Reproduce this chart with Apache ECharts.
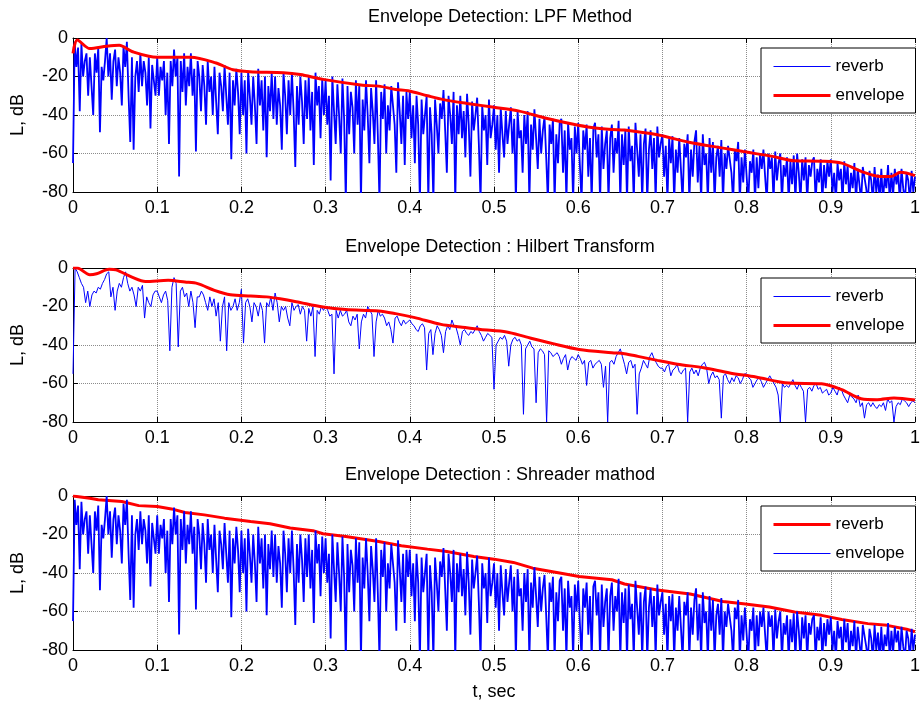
<!DOCTYPE html>
<html>
<head>
<meta charset="utf-8">
<title>Envelope Detection</title>
<script src="https://cdn.jsdelivr.net/npm/echarts@6/dist/echarts.min.js"></script>
<style>
  html, body { margin: 0; padding: 0; background: #fff; }
  #chart { width: 923px; height: 702px; }
</style>
</head>
<body>
<div id="chart"></div>
<script>
  // axis ticks
  var xTicks = [0, 0.1, 0.2, 0.3, 0.4, 0.5, 0.6, 0.7, 0.8, 0.9, 1];
  var yTicks = [-80, -60, -40, -20, 0];

  var titles = [
    'Envelope Detection: LPF Method',
    'Envelope Detection : Hilbert Transform',
    'Envelope Detection : Shreader mathod'
  ];

  // reverb level, dB, read every 2 ms over 0..1 s (used in panel 1 and 3)
  var reverbLevel = [
    -65, -2, -15, -5, -38, -3, -20, -12, -8, -30,
    -10, -25, -40, -8, -18, -5, -49, -15, -22, -12,
    0, -20, -8, -32, -12, -6, -25, -10, -18, -35,
    -4, -15, -2, -30, -54, -10, -58, -20, -12, -28,
    -8, -25, -12, -18, -35, -10, -47, -14, -22, -30,
    -10, -30, -15, -22, -12, -40, -18, -55, -12, -25,
    -6, -20, -10, -72, -12, -28, -8, -35, -15, -25,
    -8, -30, -16, -59, -12, -20, -38, -14, -25, -45,
    -12, -28, -20, -40, -15, -33, -50, -18, -25, -38,
    -14, -30, -45, -18, -63, -22, -35, -16, -28, -50,
    -18, -40, -22, -60, -17, -30, -45, -20, -35, -55,
    -16, -35, -22, -48, -20, -62, -25, -38, -18, -42,
    -20, -45, -26, -35, -58, -18, -30, -50, -22, -40,
    -18, -38, -67, -25, -45, -20, -33, -55, -22, -42,
    -20, -48, -28, -66, -18, -35, -25, -52, -21, -40,
    -22, -45, -30, -74, -20, -38, -55, -24, -40, -60,
    -21, -42, -85, -25, -50, -28, -36, -60, -22, -45,
    -24, -85, -32, -48, -22, -40, -65, -26, -38, -55,
    -22, -50, -85, -28, -42, -24, -60, -35, -48, -25,
    -26, -45, -70, -23, -38, -55, -30, -66, -28, -42,
    -28, -52, -35, -65, -30, -45, -85, -32, -50, -40,
    -30, -85, -36, -50, -85, -32, -45, -60, -34, -42,
    -27, -48, -70, -30, -40, -55, -28, -85, -35, -50,
    -30, -52, -38, -62, -29, -45, -72, -33, -48, -40,
    -31, -55, -85, -35, -48, -40, -66, -32, -52, -45,
    -35, -58, -40, -70, -36, -50, -62, -38, -55, -45,
    -36, -60, -42, -85, -38, -52, -48, -70, -40, -55,
    -38, -85, -45, -58, -37, -52, -68, -42, -60, -48,
    -41, -62, -85, -45, -55, -42, -85, -50, -65, -44,
    -42, -70, -48, -85, -44, -58, -52, -85, -46, -60,
    -44, -66, -85, -48, -58, -45, -72, -52, -85, -47,
    -44, -62, -50, -85, -46, -68, -55, -48, -85, -52,
    -45, -70, -52, -60, -43, -85, -50, -66, -48, -85,
    -46, -64, -56, -85, -44, -58, -72, -50, -85, -55,
    -47, -85, -58, -48, -68, -52, -85, -46, -62, -55,
    -50, -72, -56, -85, -52, -65, -51, -85, -58, -70,
    -52, -68, -85, -55, -62, -50, -85, -58, -72, -54,
    -48, -75, -56, -85, -50, -66, -60, -85, -52, -70,
    -54, -85, -62, -56, -72, -53, -85, -60, -68, -56,
    -55, -70, -85, -58, -64, -54, -85, -62, -75, -58,
    -57, -85, -64, -70, -58, -85, -62, -78, -60, -68,
    -58, -72, -85, -60, -68, -62, -85, -59, -74, -65,
    -60, -85, -66, -72, -62, -85, -64, -76, -61, -85,
    -60, -70, -85, -63, -74, -62, -85, -66, -72, -64,
    -62, -85, -68, -75, -63, -85, -66, -78, -64, -72,
    -63, -80, -70, -85, -65, -74, -68, -85, -64, -76,
    -66, -85, -70, -78, -65, -85, -68, -76, -85, -67,
    -66, -78, -85, -69, -74, -85, -67, -80, -71, -85,
    -68, -85, -72, -78, -66, -85, -70, -82, -68, -76,
    -70, -85, -68, -78, -85, -70, -74, -85, -69, -80,
    -72
  ];

  // hilbert magnitude, dB, read every 2.5 ms over 0..1 s
  var hilbertLevel = [
    -55, 0, -2, -5, -8, -10, -18, -12, -20, -14,
    -12, -13, -10, -11, -8, -6, -3, -2, -15, -10,
    -22, -12, -8, -10, -5, -2, -8, -12, -10, -14,
    -20, -10, -12, -9, -26, -15, -18, -20, -14, -12,
    -12, -15, -18, -14, -12, -17, -43, -10, -5, -8,
    -41, -12, -10, -15, -13, -20, -12, -18, -31, -15,
    -15, -12, -14, -18, -22, -15, -20, -16, -25, -18,
    -38, -20, -15, -43, -18, -22, -20, -16, -22, -18,
    -11, -39, -18, -16, -20, -28, -18, -20, -25, -18,
    -22, -39, -18, -20, -15, -22, -13, -18, -28, -20,
    -22, -20, -26, -30, -18, -22, -20, -19, -24, -20,
    -22, -38, -21, -25, -20, -46, -22, -24, -20, -22,
    -20, -22, -25, -24, -55, -22, -26, -22, -25, -24,
    -22, -28, -30, -25, -27, -24, -42, -28, -24, -26,
    -20, -22, -24, -46, -28, -22, -25, -24, -26, -30,
    -28, -32, -39, -26, -25, -28, -30, -27, -29, -28,
    -27, -29, -30, -32, -33, -30, -29, -31, -53, -34,
    -32, -45, -34, -30, -32, -35, -44, -33, -30, -32,
    -27, -30, -31, -35, -40, -33, -32, -34, -35, -33,
    -34, -32, -30, -33, -35, -38, -36, -34, -35, -36,
    -63, -40, -38, -36, -37, -35, -38, -51, -40, -37,
    -36, -38, -37, -40, -76, -42, -40, -38, -41, -42,
    -70, -44, -42, -43, -45, -80, -43, -44, -46, -45,
    -44, -46, -50, -47, -45, -53, -48, -46, -47, -48,
    -45, -47, -50, -48, -61, -49, -48, -52, -50, -49,
    -48, -50, -62, -51, -80, -49, -48, -50, -46, -44,
    -42, -46, -50, -55, -49, -48, -52, -50, -76, -55,
    -52, -48, -50, -52, -46, -44, -47, -49, -51, -52,
    -52, -54, -51, -50, -56, -53, -52, -50, -54, -55,
    -53, -52, -80, -54, -52, -55, -53, -56, -52, -50,
    -49, -52, -60, -56, -54, -57, -56, -58, -78, -56,
    -55, -58, -60, -57, -59, -56, -57, -60, -58, -55,
    -55, -57, -58, -62, -60, -58, -57, -59, -62, -60,
    -58, -56, -58, -60, -62, -66, -80, -60, -62, -61,
    -62, -60, -58, -61, -63, -60, -62, -64, -80, -63,
    -62, -64, -61, -60, -63, -62, -65, -64, -63, -66,
    -65, -62, -64, -66, -62, -63, -66, -68, -70, -66,
    -67, -68, -70, -66, -72, -70, -78, -71, -70, -72,
    -70, -72, -73, -71, -72, -70, -74, -68, -70, -69,
    -80, -72, -70, -71, -68, -69, -70, -72, -70, -69,
    -70
  ];

  // envelope: LPF method
  var lpfT = [0, 0.005, 0.02, 0.04, 0.055, 0.07, 0.1, 0.14, 0.17, 0.19, 0.21, 0.25, 0.27, 0.297,
    0.344, 0.363, 0.383, 0.398, 0.421, 0.44, 0.468, 0.5, 0.53, 0.562, 0.593, 0.616, 0.64, 0.655,
    0.694, 0.733, 0.772, 0.796, 0.831, 0.857, 0.889, 0.913, 0.936, 0.959, 0.971, 0.983, 1];
  var lpfEnv = [-8, -1, -5.5, -4.3, -3.8, -7, -10, -10, -13, -16.5, -17.5, -18, -19, -21.5,
    -24.5, -25, -26.7, -27.4, -30, -32, -34, -36, -38, -41.7, -44.7, -46.5, -47.5, -47.8,
    -50.3, -54.3, -57.2, -59, -61.5, -63.8, -64, -65, -69.3, -72, -72, -69.8, -71.5];

  // envelope: hilbert transform
  var hilbertT = [0, 0.005, 0.02, 0.028, 0.043, 0.051, 0.07, 0.086, 0.113, 0.133, 0.148, 0.168,
    0.187, 0.211, 0.23, 0.246, 0.265, 0.297, 0.324, 0.363, 0.383, 0.406, 0.437, 0.46, 0.484,
    0.515, 0.538, 0.57, 0.601, 0.64, 0.655, 0.671, 0.694, 0.718, 0.749, 0.78, 0.811, 0.85,
    0.889, 0.913, 0.936, 0.955, 0.975, 1];
  var hilbertEnv = [0, 0, -3.5, -3, -0.7, -1, -4.7, -7, -6.4, -7.3, -8.1, -11.6,
    -13.9, -14.5, -15, -16, -17.5, -20.3, -21.6, -22.3, -23.7, -25.8, -29.3, -30.6, -31.9,
    -33.2, -35.8, -39.3, -42.3, -44, -44.5, -45.9, -48, -50, -51.8, -54.5, -56.6, -59.8,
    -60.1, -63.2, -67.9, -68.4, -67.5, -68.6];

  // envelope: schroeder integration
  var schroederT = [0, 0.02, 0.03, 0.058, 0.078, 0.1, 0.117, 0.133, 0.156, 0.18, 0.211, 0.234,
    0.258, 0.285, 0.297, 0.324, 0.363, 0.39, 0.421, 0.444, 0.476, 0.5, 0.523, 0.546, 0.578,
    0.601, 0.64, 0.655, 0.694, 0.733, 0.772, 0.796, 0.827, 0.857, 0.889, 0.913, 0.944, 0.967,
    0.99, 1];
  var schroederEnv = [0, -1.2, -2, -2.9, -5, -5.5, -6.7, -8.6, -9.8, -11.5, -13.2, -14.4,
    -16.6, -18, -19.6, -21, -23.6, -25.8, -27.6, -28.8, -31.4, -32.8, -34.5, -37.5, -40,
    -41.8, -43.5, -45.7, -48.8, -50.9, -54.8, -56, -57.7, -60.3, -62, -64.2, -66.3, -67.2,
    -69.2, -70.5];

  // samples are evenly spaced over the 1 s record
  function even(values) {
    var step = 1 / (values.length - 1);
    return values.map(function (v, i) { return [i * step, v]; });
  }
  function pairs(t, values) {
    return t.map(function (x, i) { return [x, values[i]]; });
  }

  var FONT = 'Liberation Sans, Arial, sans-serif';
  var BLUE = '#0000ff', RED = '#ff0000';
  var panelTop = [38, 268, 496];
  var panelH = [154, 154, 156];

  var chart = echarts.init(document.getElementById('chart'));

  var grids = [], xAxes = [], yAxes = [], legends = [], titleList = [], series = [];

  for (var p = 0; p < 3; p++) {
    grids.push({ left: 73, top: panelTop[p], width: 855, height: panelH[p], show: false });

    titleList.push({
      text: titles[p], left: 500, textAlign: 'center', top: panelTop[p] - 30, padding: 0,
      textStyle: { fontFamily: FONT, fontSize: 18, fontWeight: 'normal', color: '#000' }
    });

    // bottom x axis with labels
    xAxes.push({
      type: 'value', gridIndex: p, min: xTicks[0], max: xTicks[xTicks.length - 1], interval: 0.1,
      position: 'bottom',
      name: p === 2 ? 't, sec' : '', nameLocation: 'middle', nameGap: 33,
      nameTextStyle: { fontFamily: FONT, fontSize: 18, color: '#000' },
      axisLine: { onZero: false, lineStyle: { color: '#000', width: 1 } },
      axisTick: { inside: true, length: 5, lineStyle: { color: '#000' } },
      axisLabel: { fontFamily: FONT, fontSize: 18, color: '#000', margin: 7 },
      splitLine: { show: true, lineStyle: { color: '#8c8c8c', type: 'dotted', width: 1 } }
    });
    // top x axis: box edge and ticks only
    xAxes.push({
      type: 'value', gridIndex: p, min: xTicks[0], max: xTicks[xTicks.length - 1], interval: 0.1,
      position: 'top',
      axisLine: { onZero: false, lineStyle: { color: '#000', width: 1 } },
      axisTick: { inside: true, length: 5, lineStyle: { color: '#000' } },
      axisLabel: { show: false },
      splitLine: { show: false }
    });

    yAxes.push({
      type: 'value', gridIndex: p, min: yTicks[0], max: yTicks[yTicks.length - 1], interval: 20,
      name: 'L, dB', nameLocation: 'middle', nameGap: 46, nameRotate: 90,
      nameTextStyle: { fontFamily: FONT, fontSize: 18, color: '#000' },
      axisLine: { onZero: false, lineStyle: { color: '#000', width: 1 } },
      axisTick: { inside: true, length: 5, lineStyle: { color: '#000' } },
      axisLabel: { fontFamily: FONT, fontSize: 18, color: '#000', margin: 5 },
      splitLine: { show: true, lineStyle: { color: '#8c8c8c', type: 'dotted', width: 1 } }
    });

    // the blue entry is drawn thin in the legend, the red one thick
    var blueFirst = p < 2;
    legends.push({
      orient: 'vertical', left: 761, top: panelTop[p] + 10,
      padding: [10, 11, 9, 11], itemWidth: 57, itemHeight: 14, itemGap: 12,
      backgroundColor: '#fff', borderColor: '#000', borderWidth: 1, borderRadius: 0,
      data: [
        { name: 'reverb#' + p, lineStyle: { width: blueFirst ? 1 : 3 } },
        { name: 'envelope#' + p, lineStyle: { width: blueFirst ? 3 : 1 } }
      ],
      formatter: function (name) { return name.split('#')[0]; },
      itemStyle: { opacity: 0 },   // no marker, just the line
      textStyle: { fontFamily: FONT, fontSize: 17, color: '#000' },
      selectedMode: false
    });
  }

  function blueLine(name, p, data, width) {
    return {
      name: name, type: 'line', xAxisIndex: p * 2, yAxisIndex: p, data: data,
      symbol: 'none', clip: true, animation: false,
      color: BLUE, lineStyle: { color: BLUE, width: width }
    };
  }
  function redLine(name, p, data, smooth) {
    return {
      name: name, type: 'line', xAxisIndex: p * 2, yAxisIndex: p, data: data,
      symbol: 'none', smooth: smooth, clip: true, animation: false,
      color: RED, lineStyle: { color: RED, width: 3 }
    };
  }

  // panel 1: LPF
  series.push(blueLine('reverb#0', 0, even(reverbLevel), 1.8));
  series.push(redLine('envelope#0', 0, pairs(lpfT, lpfEnv), 0.3));
  // panel 2: hilbert
  series.push(blueLine('reverb#1', 1, even(hilbertLevel), 1));
  series.push(redLine('envelope#1', 1, pairs(hilbertT, hilbertEnv), 0.3));
  // panel 3: schroeder (legend labels swapped as in the original figure)
  series.push(redLine('reverb#2', 2, pairs(schroederT, schroederEnv), false));
  series.push(blueLine('envelope#2', 2, even(reverbLevel), 1.8));

  chart.setOption({
    animation: false,
    backgroundColor: '#fff',
    title: titleList,
    grid: grids,
    xAxis: xAxes,
    yAxis: yAxes,
    legend: legends,
    series: series
  });
</script>
</body>
</html>
